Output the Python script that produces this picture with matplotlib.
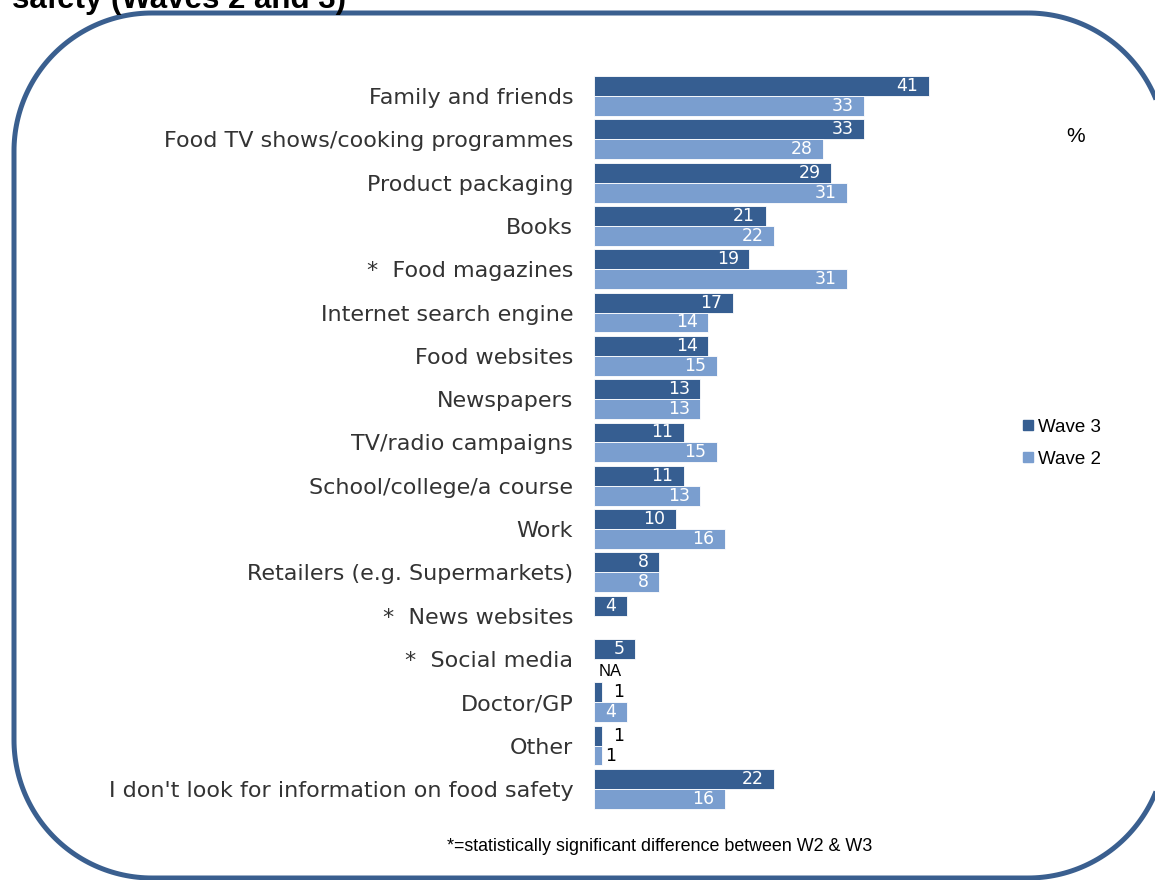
import numpy as np
import matplotlib.pyplot as plt
from matplotlib.lines import Line2D
from matplotlib.patches import Polygon
from matplotlib.transforms import Affine2D

categories = ["Family and friends", "Food TV shows/cooking programmes", "Product packaging",
              "Books", "*  Food magazines", "Internet search engine", "Food websites",
              "Newspapers", "TV/radio campaigns", "School/college/a course", "Work",
              "Retailers (e.g. Supermarkets)", "*  News websites", "*  Social media",
              "Doctor/GP", "Other", "I don't look for information on food safety"]
wave3 = [41, 33, 29, 21, 19, 17, 14, 13, 11, 11, 10, 8, 4, 5, 1, 1, 22]
wave2 = [33, 28, 31, 22, 31, 14, 15, 13, 15, 13, 16, 8, None, None, 4, 1, 16]
wave2_notes = {"*  Social media": "NA"}
series_names = ["Wave 3", "Wave 2"]

DARK = "#365e91"
LIGHT = "#7a9ecf"
FRAME = "#3a5f8f"
W, H = 1155, 880

fig = plt.figure(figsize=(W / 100, H / 100), dpi=100)

# axes placed in pixel terms of the reference
top, bottom = 74.35, 810.5
ax = fig.add_axes([594 / W, 1 - bottom / H, 408.5 / W, (bottom - top) / H])
ax.set_xlim(0, 50)
n = len(categories)
ax.set_ylim(n - 0.5, -0.5)
for s in ax.spines.values():
    s.set_visible(False)
ax.set_xticks([])
ax.set_yticks(range(n))
ax.set_yticklabels(categories, fontsize=16, color="#333333", family="DejaVu Sans")
ax.tick_params(axis="y", length=0, pad=15)
ax.patch.set_alpha(0)

h = 0.46
y = np.arange(n)
for vals, off, col, name in [(wave3, -h / 2, DARK, series_names[0]),
                             (wave2, h / 2, LIGHT, series_names[1])]:
    for i, v in enumerate(vals):
        if v is None:
            continue
        ax.barh(y[i] + off, v, height=h, color=col, edgecolor="white", linewidth=0.6)
        if v >= 2:
            ax.annotate(str(v), (v, y[i] + off), xytext=(-7.5, 0), textcoords="offset points",
                        ha="right", va="center", color="white", fontsize=12.5)
        else:
            dx = 8 if name == "Wave 3" else 2
            ax.annotate(str(v), (v, y[i] + off), xytext=(dx, 0), textcoords="offset points",
                        ha="left", va="center", color="black", fontsize=12.5)

for cat, note in wave2_notes.items():
    i = categories.index(cat)
    ax.annotate(note, (0, y[i] + h / 2 + 0.05), xytext=(3, 0), textcoords="offset points",
                ha="left", va="center", color="black", fontsize=12, family="Liberation Sans")

# legend
handles = [Line2D([], [], marker="s", linestyle="", color=DARK, markersize=7.5),
           Line2D([], [], marker="s", linestyle="", color=LIGHT, markersize=7.5)]
fig.legend(handles, series_names, loc="center left", bbox_to_anchor=(1022 / W, 1 - 443 / H),
           frameon=False, handlelength=0.6, handletextpad=0.25, labelspacing=0.8,
           borderpad=0, borderaxespad=0,
           prop={"family": "Liberation Sans", "size": 13.5})

fig.text(1076 / W, 1 - 137 / H, "%", ha="center", va="center", fontsize=15,
         family="Liberation Sans")
fig.text(660 / W, 1 - 846 / H, "*=statistically significant difference between W2 & W3",
         ha="center", va="center", fontsize=12.9, family="Liberation Sans")
fig.text(12 / W, 1 - 8 / H, "safety (Waves 2 and 3)", ha="left", va="baseline",
         fontsize=22.5, fontweight="bold", family="Liberation Sans")

# rounded frame, drawn in pixel coords (y down)
px = Affine2D().scale(1 / W, -1 / H).translate(0, 1) + fig.transFigure
x0, y0, x1, y1, r = 14, 13, 1166, 878, 138
corners = [(x1 - r, y0 + r, -90, 0), (x1 - r, y1 - r, 0, 90),
           (x0 + r, y1 - r, 90, 180), (x0 + r, y0 + r, 180, 270)]
pts = []
for cx, cy, a0, a1 in corners:
    t = np.radians(np.linspace(a0, a1, 60))
    pts.extend(zip(cx + r * np.cos(t), cy + r * np.sin(t)))
fig.add_artist(Polygon(pts, closed=True, fill=False, transform=px,
                       edgecolor=FRAME, linewidth=3.6, joinstyle="round"))

fig.savefig("out.png", dpi=100)
